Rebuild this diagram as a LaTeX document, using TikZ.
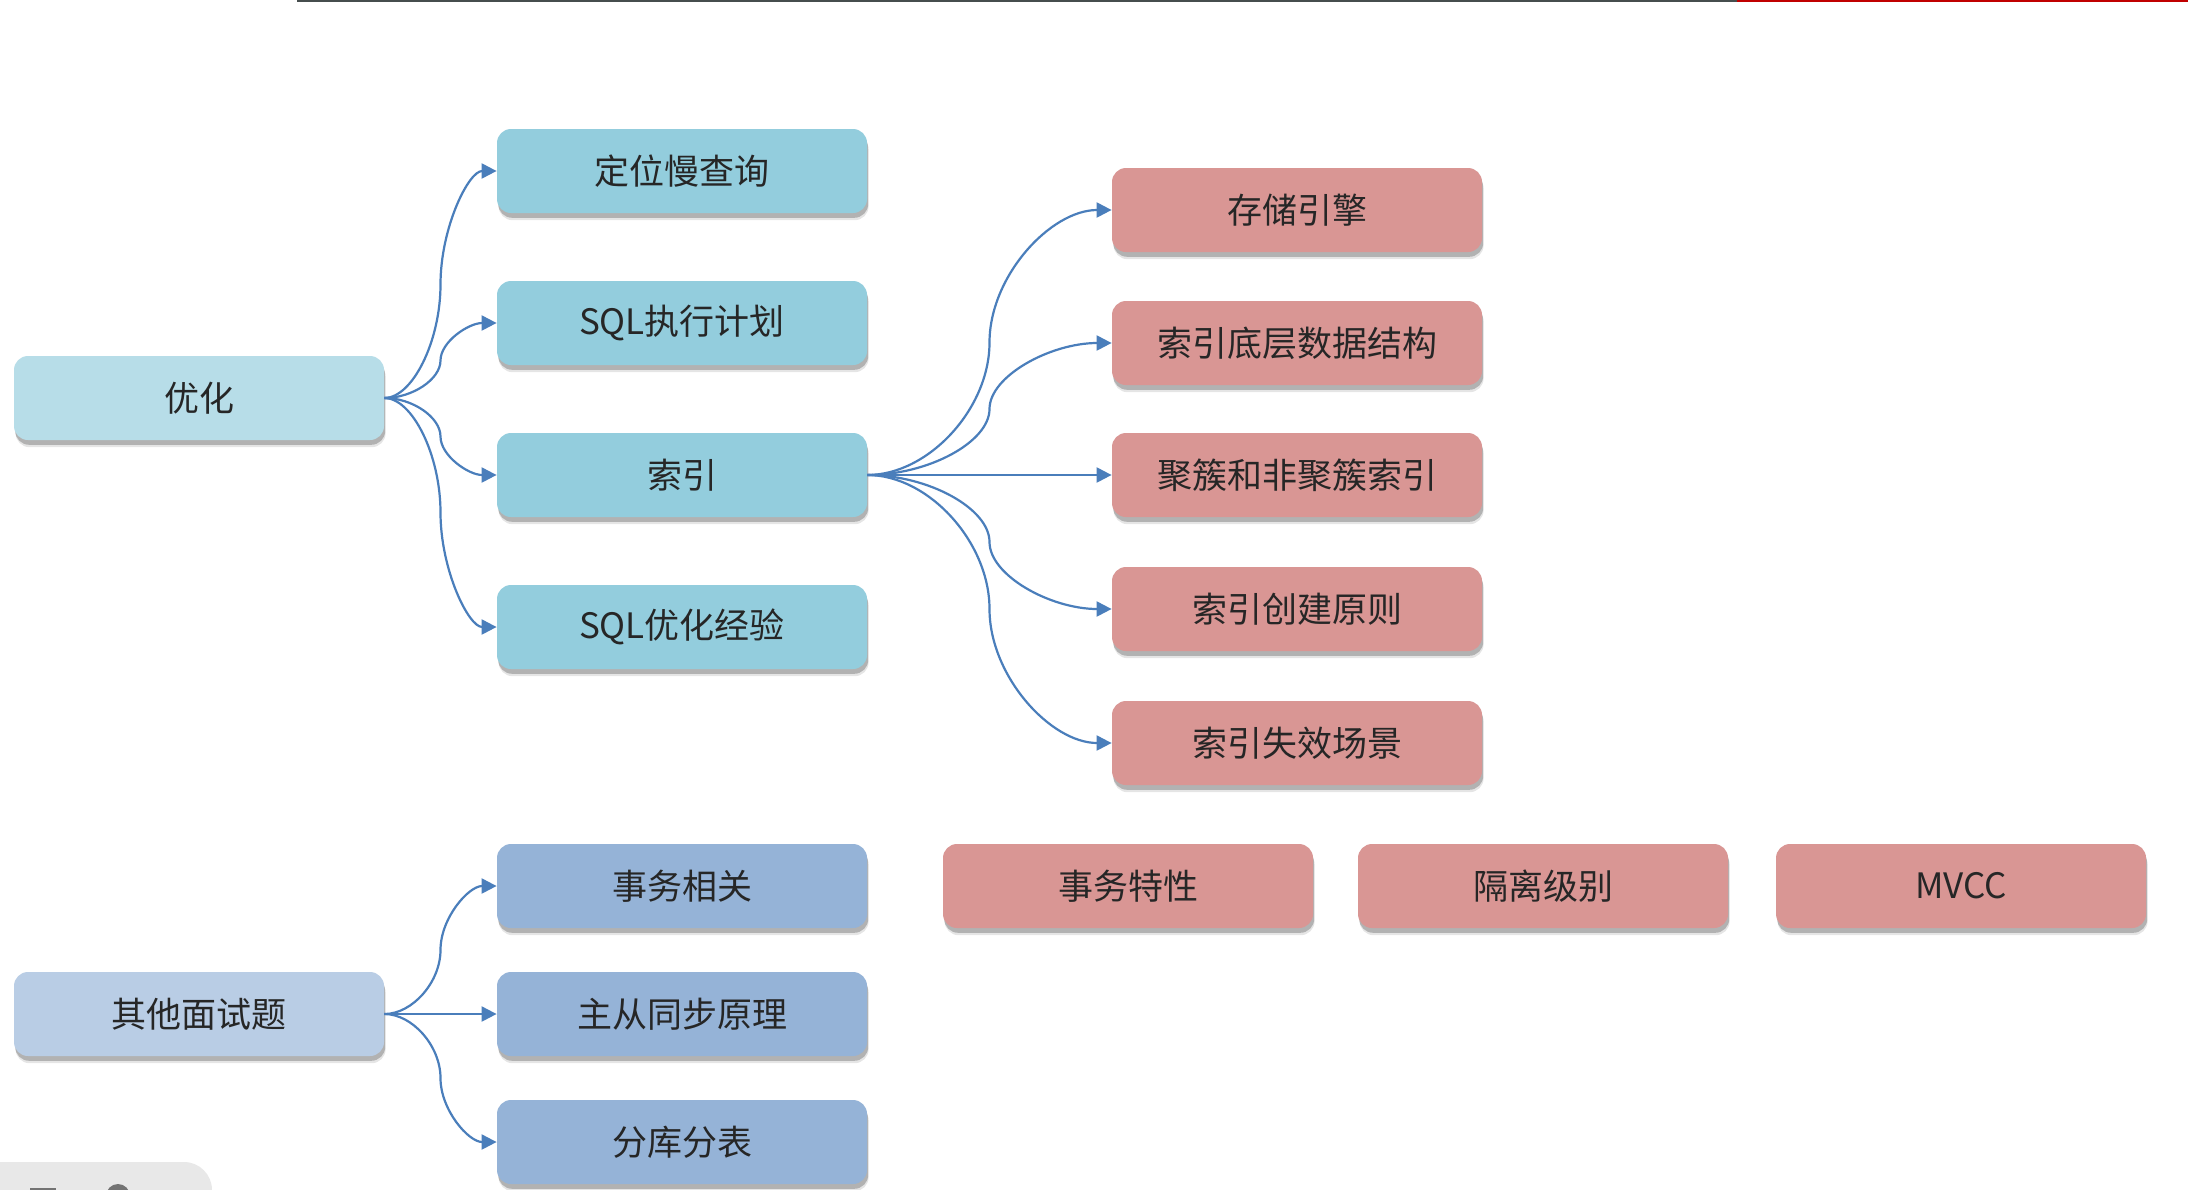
\documentclass[tikz,border=0pt]{standalone}
\usepackage{fontspec}
\setmainfont{Noto Sans CJK SC}
\usetikzlibrary{calc,shadows,arrows.meta}
\definecolor{rootA}{HTML}{B7DDE8}
\definecolor{boxA}{HTML}{93CDDD}
\definecolor{rootB}{HTML}{B9CDE5}
\definecolor{boxB}{HTML}{95B3D7}
\definecolor{boxR}{HTML}{D99694}
\definecolor{arrowc}{HTML}{4A7EBB}
\definecolor{txt}{HTML}{262626}
\definecolor{topgray}{HTML}{464E4E}
\definecolor{topred}{HTML}{C00000}
\tikzset{
  card/.style={rectangle, rounded corners=7pt, minimum width=185pt, minimum height=42pt,
    inner sep=0pt, text=txt, font=\fontsize{17.5pt}{21pt}\selectfont,
    drop shadow={shadow xshift=0.8pt, shadow yshift=-3.6pt, fill=black, opacity=0.10},
    drop shadow={shadow xshift=0.6pt, shadow yshift=-2.4pt, fill=black, opacity=0.22}},
  rootA/.style={card, fill=rootA},
  subA/.style={card, fill=boxA},
  rootB/.style={card, fill=rootB},
  subB/.style={card, fill=boxB},
  subR/.style={card, fill=boxR},
  conn/.style={draw=arrowc, line width=1.1pt, -{Triangle[length=7.5pt,width=7.5pt]}}
}
\newcommand\myconn[2]{%
  \draw[conn] let \p1=(#1.east), \p2=(#2.west), \n1={(\x1+\x2)/2} in
    (\p1) .. controls ({(\x1+\n1)/2},\y1) and (\n1,{\y1+(\y2-\y1)/4}) ..
    (\n1,{(\y1+\y2)/2}) .. controls (\n1,{\y1+3*(\y2-\y1)/4}) and ({(\n1+\x2)/2},\y2) .. (\p2);}
\begin{document}
\begin{tikzpicture}[x=0.5pt,y=-0.5pt]
\useasboundingbox (0,0) rectangle (2188,1189);
\fill[white] (0,0) rectangle (2188,1189);
% top line
\coordinate (tl0) at (297,1);
\coordinate (tl1) at (1737,1);
\coordinate (tl2) at (2188,1);
\draw[topgray, line width=1.2pt] (tl0) -- (tl1);
\draw[topred, line width=1.2pt] (tl1) -- (tl2);
% bottom-left toolbar remnant
\fill[black!9, rounded corners=14pt] (-40,1162) rectangle (212,1240);
\fill[black!55] (30,1188) rectangle (56,1195);
\fill[black!55] (118,1196) circle (12);
% nodes
\node[rootA] (yh) at (199,398) {优化};
\node[subA] (a1) at (682,171) {定位慢查询};
\node[subA] (a2) at (682,323) {SQL执行计划};
\node[subA] (a3) at (682,475) {索引};
\node[subA] (a4) at (682,627) {SQL优化经验};
\node[subR] (r1) at (1297,210) {存储引擎};
\node[subR] (r2) at (1297,343) {索引底层数据结构};
\node[subR] (r3) at (1297,475) {聚簇和非聚簇索引};
\node[subR] (r4) at (1297,609) {索引创建原则};
\node[subR] (r5) at (1297,743) {索引失效场景};
\node[rootB] (qt) at (199,1014) {其他面试题};
\node[subB] (b1) at (682,886) {事务相关};
\node[subB] (b2) at (682,1014) {主从同步原理};
\node[subB] (b3) at (682,1142) {分库分表};
\node[subR] (t1) at (1128,886) {事务特性};
\node[subR] (t2) at (1543,886) {隔离级别};
\node[subR] (t3) at (1961,886) {MVCC};
% connectors
\myconn{yh}{a1}
\myconn{yh}{a2}
\myconn{yh}{a3}
\myconn{yh}{a4}
\myconn{a3}{r1}
\myconn{a3}{r2}
\draw[conn] (a3.east) -- (r3.west);
\myconn{a3}{r4}
\myconn{a3}{r5}
\myconn{qt}{b1}
\draw[conn] (qt.east) -- (b2.west);
\myconn{qt}{b3}
\end{tikzpicture}
\end{document}
